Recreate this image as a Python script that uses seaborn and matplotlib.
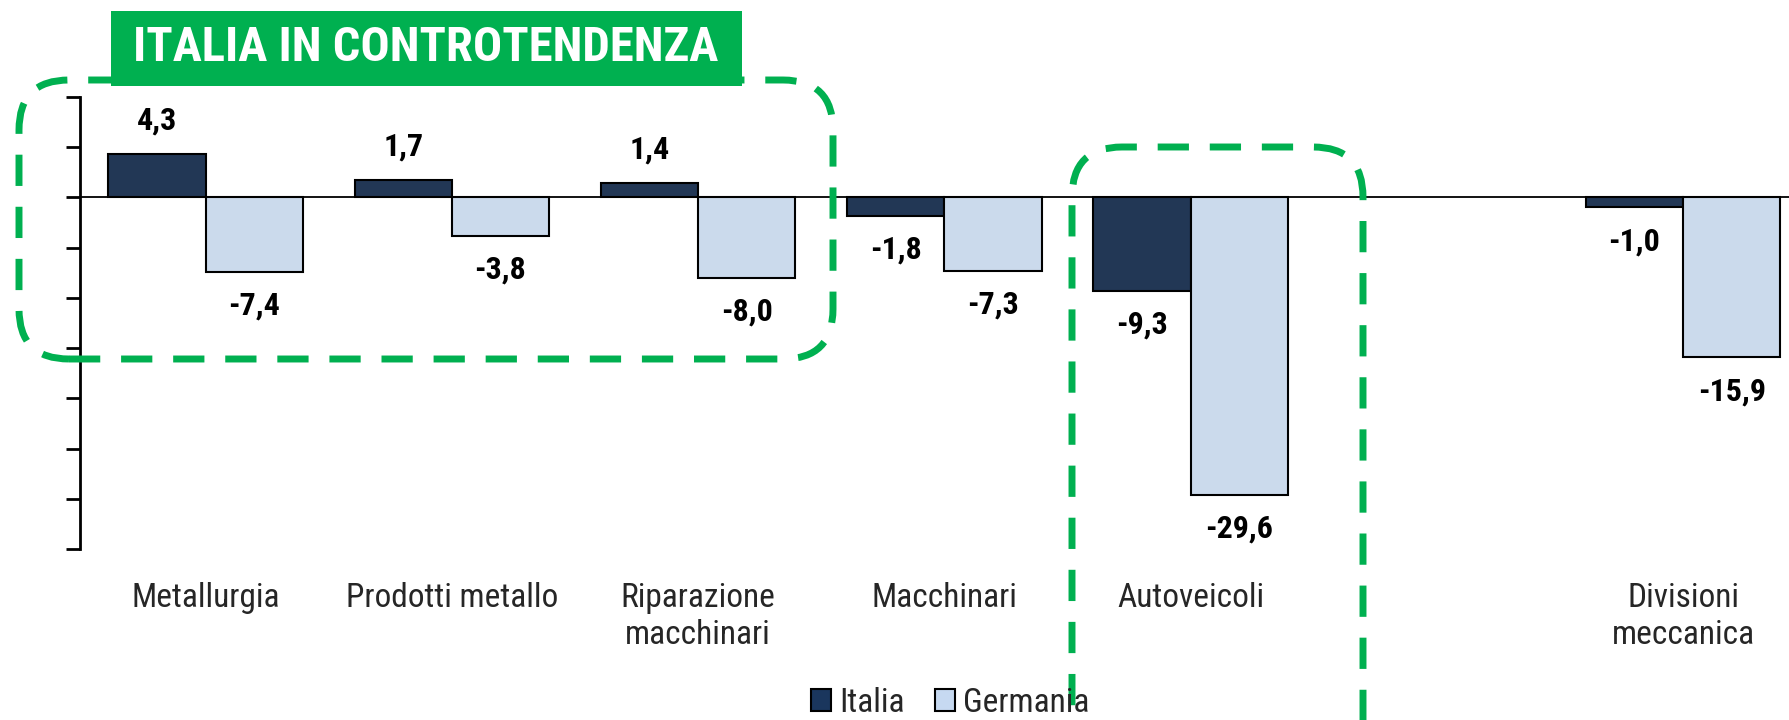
import matplotlib
matplotlib.use("Agg")
import matplotlib.pyplot as plt
import matplotlib.font_manager as fm
from matplotlib.patches import FancyBboxPatch, Rectangle, Patch
from matplotlib.transforms import IdentityTransform
import numpy as np
import pandas as pd
import seaborn as sns

# Data (variazioni %)
categories = ["Metallurgia", "Prodotti metallo", "Riparazione\nmacchinari",
              "Macchinari", "Autoveicoli", "", "Divisioni\nmeccanica"]
italia = [4.3, 1.7, 1.4, -1.8, -9.3, np.nan, -1.0]
germania = [-7.4, -3.8, -8.0, -7.3, -29.6, np.nan, -15.9]
series = ["Italia", "Germania"]
title_text = "ITALIA IN CONTROTENDENZA"

colors = {"Italia": "#1A365D", "Germania": "#C6D9F1"}
green = "#00B050"

# pick a narrow font if there is one
available = {f.name for f in fm.fontManager.ttflist}
font = "Liberation Sans"
scale = 0.85
for name in ["Liberation Sans Narrow", "Roboto Condensed"]:
    if name in available:
        font = name
        scale = 1.0
        break

sns.set_style("white")
plt.rcParams["font.family"] = [font, "DejaVu Sans"]

df = pd.DataFrame({
    "categoria": categories * 2,
    "paese": ["Italia"] * len(categories) + ["Germania"] * len(categories),
    "valore": italia + germania,
}).dropna()

fig = plt.figure(figsize=(17.9, 7.2), dpi=100)
ax = fig.add_axes([80 / 1790, 1 - 549 / 720, 1 - 80 / 1790, (549 - 97) / 720])

sns.barplot(data=df, x="categoria", y="valore", hue="paese", order=categories,
            hue_order=series, palette=colors, edgecolor="black", linewidth=1.5,
            width=0.79, legend=False, ax=ax)

ax.axhline(0, color="black", lw=1.3, zorder=3)
ax.set_xlim(-0.51, 6.434)
ax.set_ylim(-35, 10)
ax.set_yticks(range(-35, 11, 5))
ax.set_yticklabels([])
ax.set_xlabel("")
ax.set_ylabel("")
for s in ["top", "right", "bottom"]:
    ax.spines[s].set_visible(False)
ax.spines["left"].set_linewidth(2)
ax.spines["left"].set_color("black")
ax.tick_params(axis="y", direction="out", length=10, width=2, color="black", left=True)
ax.tick_params(axis="x", length=0, pad=24, labelsize=24 * scale)

# value labels
for cont in ax.containers:
    for bar in cont:
        h = bar.get_height()
        if np.isnan(h):
            continue
        x = bar.get_x() + bar.get_width() / 2
        off = 34 if h > 0 else -34
        ax.annotate(f"{h:.1f}".replace(".", ","), (x, h), xytext=(0, off),
                    textcoords="offset pixels", ha="center", va="center",
                    fontsize=23 * scale, fontweight="bold", color="black")

# dashed highlight boxes (pixel coords)
for (x0, y0, w, h) in [(19, 361, 814, 279), (1072, -80, 291, 653)]:
    box = FancyBboxPatch((x0, y0), w, h, boxstyle="round,pad=0,rounding_size=50",
                         transform=IdentityTransform(), fill=False, ec=green,
                         lw=5, ls=(0, (4.5, 3)), zorder=5)
    fig.add_artist(box)

title_box = Rectangle((111, 720 - 86), 631, 75, transform=IdentityTransform(),
                      fc=green, ec="none", zorder=6)
fig.add_artist(title_box)
fig.text(426 / 1790, 1 - 48 / 720, title_text, color="white", fontsize=35 * scale,
         fontweight="bold", ha="center", va="center", zorder=7)

handles = [Patch(facecolor=colors[s], edgecolor="black", lw=1.5) for s in series]
fig.legend(handles, series, loc="center", bbox_to_anchor=(0.531, 0.024), ncol=2,
           frameon=False, fontsize=24 * scale, handlelength=0.6, handleheight=0.6,
           handletextpad=0.25, columnspacing=0.9)

fig.savefig("out.png", dpi=100)
